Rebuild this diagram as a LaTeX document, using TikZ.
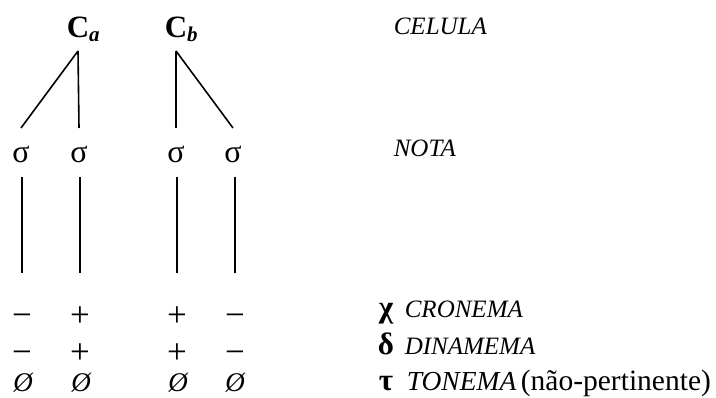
\documentclass[tikz,border=0pt]{standalone}
\usepackage{fontspec}
\setmainfont{Liberation Serif}
\begin{document}
\begin{tikzpicture}[x=1pt, y=-1pt, black, line width=1.6pt,
    cel/.style={anchor=base, inner sep=0pt, text depth=0pt, outer ysep=13pt, font=\fontsize{31}{31}\selectfont\bfseries},
    nota/.style={anchor=base, inner sep=0pt, text height=21pt, text depth=0pt, outer ysep=14pt, font=\fontsize{32}{32}\selectfont},
    feat/.style={anchor=base, inner sep=0pt, text height=24pt, outer ysep=30pt, font=\fontsize{35}{35}\selectfont},
    zero/.style={anchor=base, inner sep=0pt, font=\fontsize{27}{27}\selectfont\itshape},
    greek/.style={anchor=base, inner sep=0pt, font=\fontsize{31}{31}\selectfont\bfseries},
    lab/.style={anchor=base west, inner sep=0pt, font=\fontsize{25}{25}\selectfont\itshape}]
    \newcommand\XA{22}
    \newcommand\XB{80}
    \newcommand\XC{177}
    \newcommand\XD{235}
    \newcommand\XG{386}
    \newcommand\XT{404}
    \newcommand\YC{38}
    \newcommand\YS{163}
    \newcommand\YR{327}
    \newcommand\YD{364}
    \newcommand\YT{392}
    \useasboundingbox (0,0) rectangle (716,398);
    % cells
    \node[cel] (Ca) at (78, \YC){C\rlap{\raisebox{-4pt}{\fontsize{21}{21}\selectfont\itshape a}}};
    \node[cel] (Cb) at (176, \YC){C\rlap{\raisebox{-4pt}{\fontsize{21}{21}\selectfont\itshape b}}};
    \node[lab] (celula) at (393, 35){CELULA};
    % notes
    \node[nota] (sa1) at (\XA-1, \YS){σ};
    \node[nota] (sa2) at (\XB-1, \YS){σ};
    \node[nota] (sb1) at (\XC-1, \YS){σ};
    \node[nota] (sb2) at (\XD-2, \YS){σ};
    \node[lab] (nota) at (393, 157){NOTA};
    % features
    \node[feat] (cr1) at (\XA, \YR){−};
    \node[feat] (cr2) at (\XB, \YR){+};
    \node[feat] (cr3) at (\XC, \YR){+};
    \node[feat] (cr4) at (\XD, \YR){−};
    \node[feat] (dn1) at (\XA, \YD){−};
    \node[feat] (dn2) at (\XB, \YD){+};
    \node[feat] (dn3) at (\XC, \YD){+};
    \node[feat] (dn4) at (\XD, \YD){−};
    \node[zero] (tn1) at (\XA+1, \YT){Ø};
    \node[zero] (tn2) at (\XB+1, \YT){Ø};
    \node[zero] (tn3) at (\XC+1, \YT){Ø};
    \node[zero] (tn4) at (\XD, \YT){Ø};
    \node[greek] (chi) at (\XG, 318){χ};
    \node[greek] (delta) at (\XG, 355){δ};
    \node[greek] (tau) at (\XG, 391){τ};
    \node[lab] (cronema) at (\XT, 318){CRONEMA};
    \node[lab] (dinamema) at (\XT, 355){DINAMEMA};
    \node[lab, font=\fontsize{27.5}{27.5}\selectfont\itshape] (tonema) at (\XT+2, 391){TONEMA\,{\fontsize{29.5}{29.5}\selectfont\upshape (não-pertinente)}};
    % branches
    \draw (Ca.south) -- (sa1.north);
    \draw (Ca.south) -- (sa2.north);
    \draw (Cb.south) -- (sb1.north);
    \draw (Cb.south) -- (sb2.north);
    \draw (sa1.south -| cr1) -- (cr1.north);
    \draw (sa2.south -| cr2) -- (cr2.north);
    \draw (sb1.south -| cr3) -- (cr3.north);
    \draw (sb2.south -| cr4) -- (cr4.north);
  \end{tikzpicture}
\end{document}
